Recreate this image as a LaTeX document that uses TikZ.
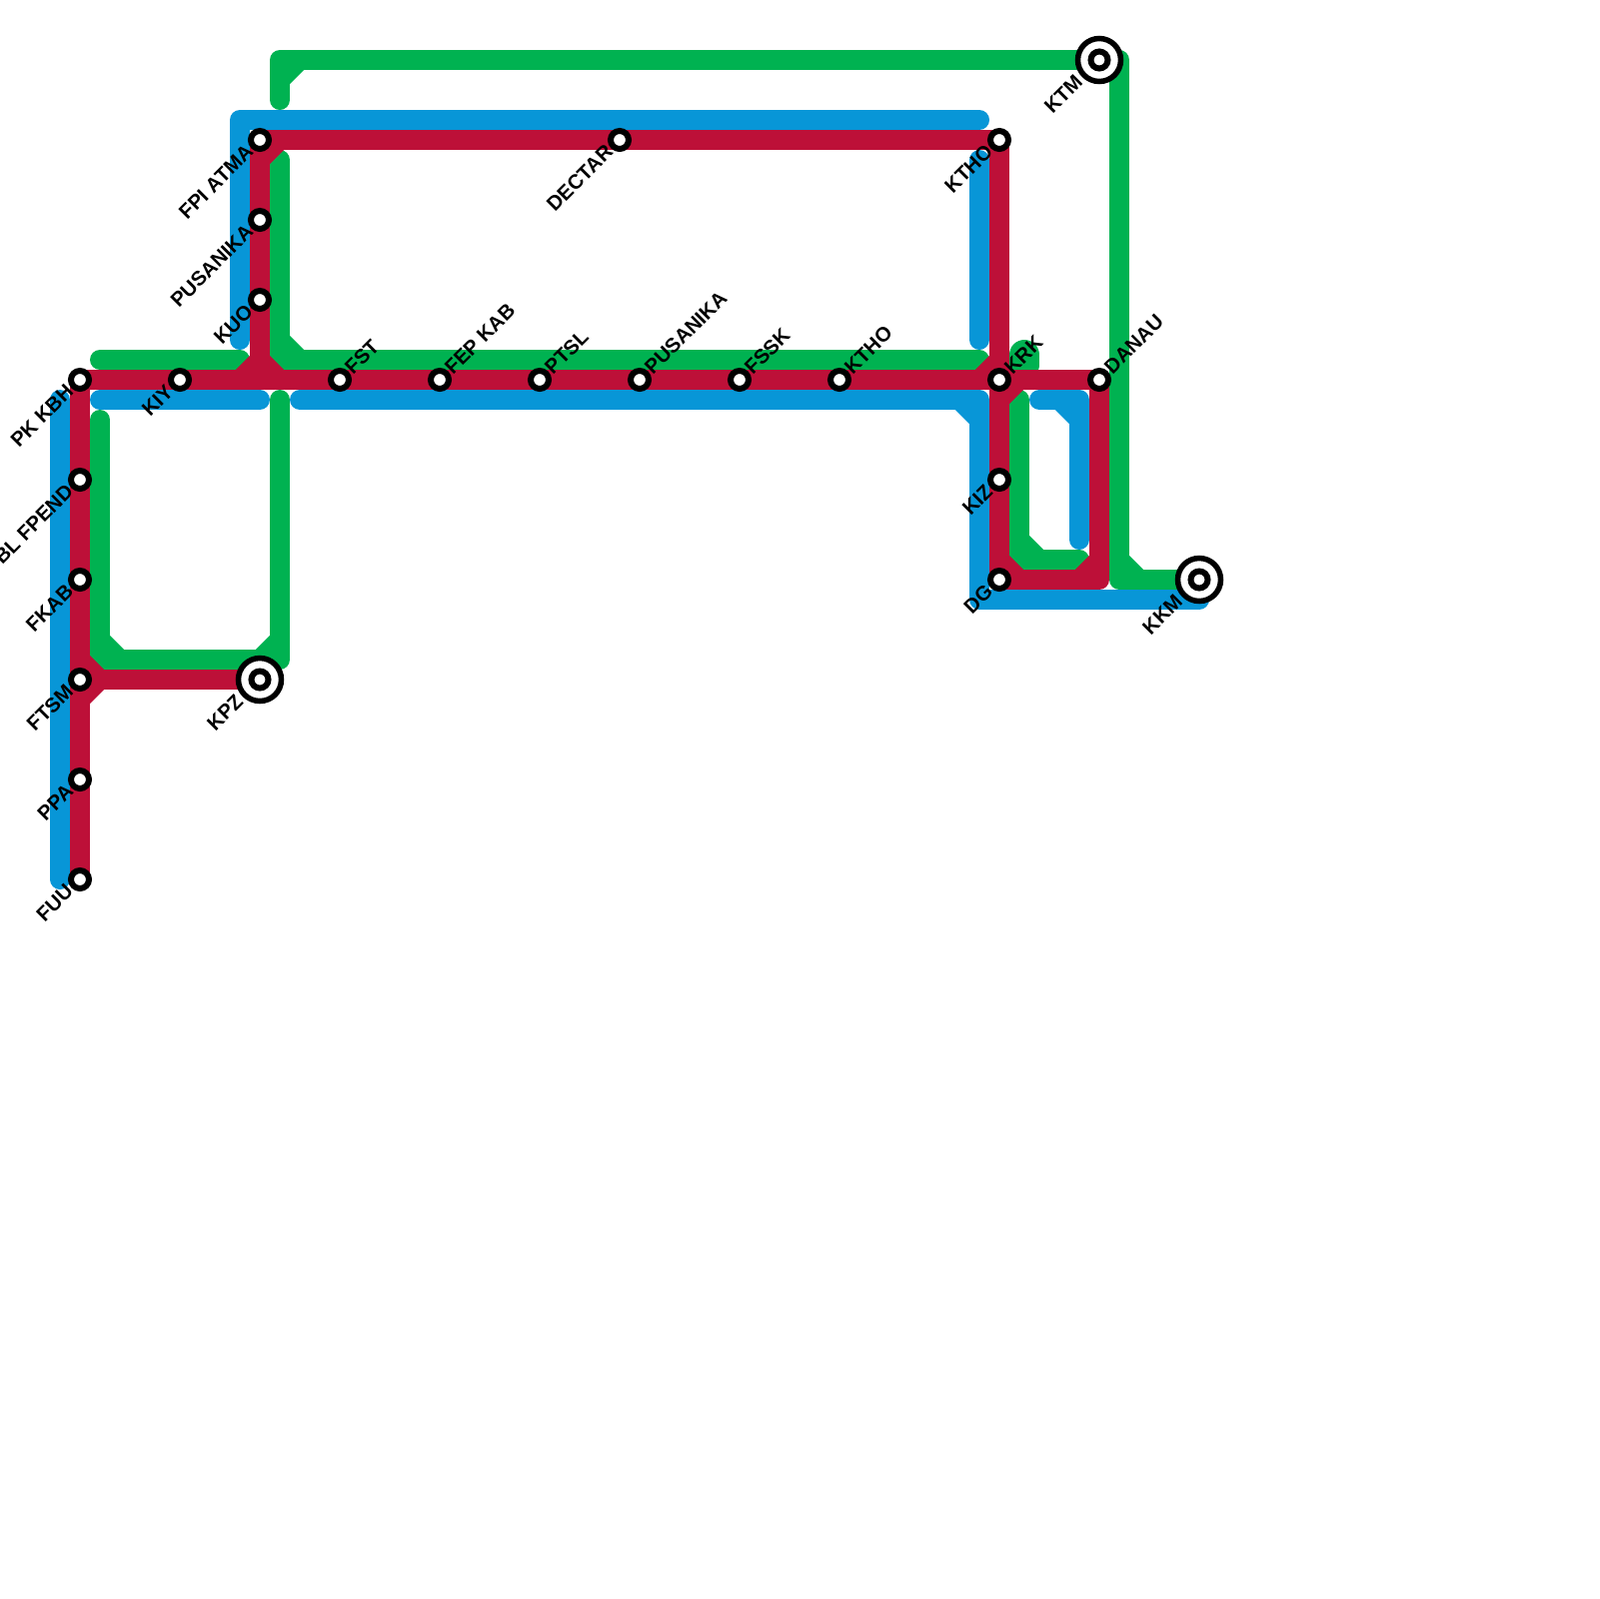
\documentclass[tikz,border=0pt]{standalone}
\usepackage{fontspec}
\setmainfont{Liberation Sans}
\definecolor{lineblue}{HTML}{0896D7}
\definecolor{linegreen}{HTML}{00B251}
\definecolor{linered}{HTML}{BD1038}
\pgfdeclarelayer{lines}
\pgfsetlayers{lines,main}
\tikzset{
  stn/.style={draw=black,fill=white,circle,line width=.6mm,minimum size=1.8mm,inner sep=0pt},
  hub/.style={draw=black,fill=white,circle,line width=.55mm,minimum size=4.3mm,inner sep=0pt,
    path picture={\draw[line width=.6mm] (path picture bounding box.center) circle (.85mm);}},
  tagdown/.style={shift={(-10,8)},rotate=45,anchor=east,inner sep=0pt,font=\bfseries\fontsize{5.8}{6}\selectfont},
  tagup/.style={shift={(8,-9)},rotate=45,anchor=west,inner sep=0pt,font=\bfseries\fontsize{5.8}{6}\selectfont},
  hubtag/.style={shift={(-20,18)},rotate=45,anchor=east,inner sep=0pt,font=\bfseries\fontsize{5.8}{6}\selectfont},
  blueline/.style={draw=lineblue,line width=2mm,line cap=round,line join=round},
  greenline/.style={draw=linegreen,line width=2mm,line cap=round,line join=round},
  redline/.style={draw=linered,line width=2mm,line cap=round,line join=round}
}

\begin{document}
\begin{tikzpicture}[x=.1mm,y=-.1mm]
    \useasboundingbox (0,0) rectangle (1600,1600);

    \node[stn] (kbh) at (80,380) {};
    \node[stn] (kiy) at (180,380) {};
    \node[stn] (fst) at (340,380) {};
    \node[stn] (fep) at (440,380) {};
    \node[stn] (ptsl) at (540,380) {};
    \node[stn] (pusb) at (640,380) {};
    \node[stn] (fssk) at (740,380) {};
    \node[stn] (kthob) at (840,380) {};
    \node[stn] (krk) at (1000,380) {};
    \node[stn] (danau) at (1100,380) {};
    \node[stn] (atma) at (260,140) {};
    \node[stn] (pusa) at (260,220) {};
    \node[stn] (kuo) at (260,300) {};
    \node[stn] (dectar) at (620,140) {};
    \node[stn] (kthoa) at (1000,140) {};
    \node[stn] (kiz) at (1000,480) {};
    \node[stn] (dg) at (1000,580) {};
    \node[stn] (fpend) at (80,480) {};
    \node[stn] (fkab) at (80,580) {};
    \node[stn] (ftsm) at (80,680) {};
    \node[stn] (ppa) at (80,780) {};
    \node[stn] (fuu) at (80,880) {};
    \node[hub] (ktm) at (1100,60) {};
    \node[hub] (kkm) at (1200,580) {};
    \node[hub] (kpz) at (260,680) {};

    \node[tagdown] (kbhtag) at (kbh) {PK KBH};
    \node[tagdown] (kiytag) at (kiy) {KIY};
    \node[tagdown] (fpendtag) at (fpend) {BL FPEND};
    \node[tagdown] (fkabtag) at (fkab) {FKAB};
    \node[tagdown] (ftsmtag) at (ftsm) {FTSM};
    \node[tagdown] (ppatag) at (ppa) {PPA};
    \node[tagdown] (fuutag) at (fuu) {FUU};
    \node[tagdown] (atmatag) at (atma) {FPI ATMA};
    \node[tagdown] (pusatag) at (pusa) {PUSANIKA};
    \node[tagdown] (kuotag) at (kuo) {KUO};
    \node[tagdown] (dectartag) at (dectar) {DECTAR};
    \node[tagdown] (kthoatag) at (kthoa) {KTHO};
    \node[tagdown] (kiztag) at (kiz) {KIZ};
    \node[tagdown] (dgtag) at (dg) {DG};
    \node[hubtag] (ktmtag) at (ktm) {KTM};
    \node[hubtag] (kkmtag) at (kkm) {KKM};
    \node[hubtag] (kpztag) at (kpz) {KPZ};
    \node[tagup] (fsttag) at (fst) {FST};
    \node[tagup] (feptag) at (fep) {FEP KAB};
    \node[tagup] (ptsltag) at (ptsl) {PTSL};
    \node[tagup] (pusbtag) at (pusb) {PUSANIKA};
    \node[tagup] (fssktag) at (fssk) {FSSK};
    \node[tagup] (kthobtag) at (kthob) {KTHO};
    \node[tagup] (krktag) at (krk) {KRK};
    \node[tagup] (danautag) at (danau) {DANAU};

    \coordinate (greena) at (280,100);
    \coordinate (greenb) at (280,60);
    \coordinate (greenc) at (1120,60);
    \coordinate (greend) at (1120,580);
    \coordinate (greene) at (280,160);
    \coordinate (greenf) at (280,360);
    \coordinate (greeng) at (980,360);
    \coordinate (greenh) at (100,360);
    \coordinate (greeni) at (240,360);
    \coordinate (greenj) at (100,420);
    \coordinate (greenk) at (100,660);
    \coordinate (greenl) at (280,660);
    \coordinate (greenm) at (280,400);
    \coordinate (greenn) at (1020,400);
    \coordinate (greeno) at (1020,560);
    \coordinate (greenp) at (1080,560);
    \coordinate (greenq) at (1025,355);
    \coordinate (greenr) at (1025,365);
    \coordinate (bluea) at (60,400);
    \coordinate (blueb) at (60,880);
    \coordinate (bluec) at (100,400);
    \coordinate (blued) at (260,400);
    \coordinate (bluee) at (300,400);
    \coordinate (bluef) at (980,400);
    \coordinate (blueg) at (980,600);
    \coordinate (blueh) at (1200,600);
    \coordinate (bluei) at (980,160);
    \coordinate (bluej) at (980,340);
    \coordinate (bluek) at (240,340);
    \coordinate (bluel) at (240,120);
    \coordinate (bluem) at (980,120);
    \coordinate (bluen) at (1040,400);
    \coordinate (blueo) at (1080,400);
    \coordinate (bluep) at (1080,540);
    \coordinate (reda) at (1100,580);
    \coordinate (redb) at (260,380);

    \begin{pgfonlayer}{lines}
    \draw[blueline] (bluea) -- (blueb);
    \draw[blueline] (bluec) -- (blued);
    \draw[blueline] (bluee) -- (bluef) -- (blueg) -- (blueh);
    \draw[blueline] (bluef) ++(-20,0) -- ++(20,20);
    \draw[blueline] (bluei) -- (bluej);
    \draw[blueline] (bluek) -- (bluel) -- (bluem);
    \draw[blueline] (bluen) -- (blueo) -- (bluep);
    \draw[blueline] (blueo) ++(-20,0) -- ++(20,20);

    \draw[greenline] (greena) -- (greenb) -- (ktm.center) -- (greenc) -- (greend) -- (kkm.center);
    \draw[greenline] (greenb) ++(0,20) -- ++(20,-20);
    \draw[greenline] (greend) ++(0,-20) -- ++(20,20);
    \draw[greenline] (greene) -- (greenf) -- (greeng);
    \draw[greenline] (greenf) ++(0,-20) -- ++(20,20);
    \draw[greenline] (greenh) -- (greeni);
    \draw[greenline] (greenj) -- (greenk) -- (greenl) -- (greenm);
    \draw[greenline] (greenk) ++(0,-20) -- ++(20,20);
    \draw[greenline] (greenl) ++(-20,0) -- ++(20,-20);
    \draw[greenline] (greenn) -- (greeno) -- (greenp);
    \draw[greenline] (greeno) ++(0,-20) -- ++(20,20);
    \draw[greenline,line width=3mm] (greenq) -- (greenr);

    \draw[redline] (fuu.center) -- (ppa.center) -- (ftsm.center) -- (fkab.center) -- (fpend.center) -- (kbh.center)
      -- (kiy.center) -- (fst.center) -- (fep.center) -- (ptsl.center) -- (pusb.center) -- (fssk.center)
      -- (kthob.center) -- (krk.center) -- (danau.center) -- (reda) -- (dg.center) -- (kiz.center) -- (krk.center)
      -- (kthoa.center) -- (dectar.center) -- (atma.center) -- (pusa.center) -- (kuo.center) -- (redb);
    \draw[redline] (ftsm.center) -- (kpz.center);
    \draw[redline] (ftsm.center) ++(0,-20) -- ++(20,20) -- ++(-20,20);
    \draw[redline] (atma.center) ++(0,20) -- ++(20,-20);
    \draw[redline] (redb) ++(-20,0) -- ++(20,-20) -- ++(20,20);
    \draw[redline] (krk.center) ++(-20,0) -- ++(20,-20);
    \draw[redline] (krk.center) ++(0,20) -- ++(20,-20);
    \draw[redline] (dg.center) ++(0,-20) -- ++(20,20);
    \draw[redline] (reda) ++(-20,0) -- ++(20,-20);
    \end{pgfonlayer}
\end{tikzpicture}
\end{document}
